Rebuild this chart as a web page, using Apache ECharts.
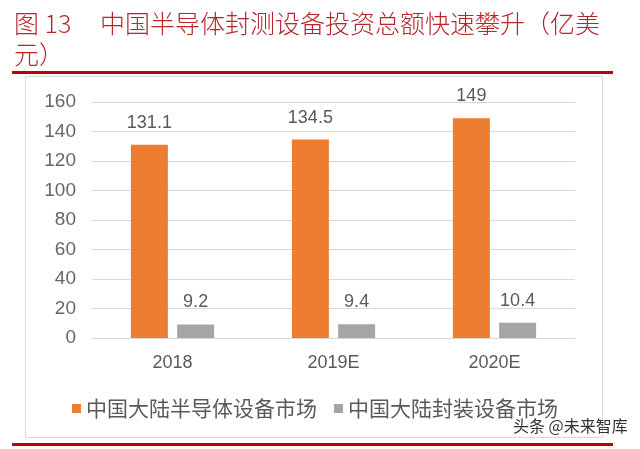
<!DOCTYPE html>
<html><head><meta charset="utf-8">
<script src="https://cdn.jsdelivr.net/npm/echarts@6/dist/echarts.min.js"></script>
<style>html,body{margin:0;padding:0;background:#fff}#c{width:640px;height:449px}</style>
</head><body><div id="c"></div>
<script>
var categories = ['2018', '2019E', '2020E'];
var semiEquip = [131.1, 134.5, 149];
var packEquip = [9.2, 9.4, 10.4];
var seriesNames = ['中国大陆半导体设备市场', '中国大陆封装设备市场'];
var yTicks = {min: 0, max: 160, interval: 20};
var titleNum = '图 13';
var titleLine1 = '中国半导体封测设备投资总额快速攀升（亿美';
var titleLine2 = '元）';
var watermark = '头条 @未来智库';

var chart = echarts.init(document.getElementById('c'));
var cjk = '"Noto Sans CJK SC", "Noto Sans", sans-serif';
var latin = '"Liberation Sans", "Noto Sans CJK SC", sans-serif';
var red = '#B8262C';
chart.setOption({
  animation: false,
  backgroundColor: '#fff',
  grid: {left: 92, right: 65, top: 102, bottom: 111},
  legend: {
    data: seriesNames,
    left: 67, top: 393,
    icon: 'rect', itemWidth: 9, itemHeight: 9, itemGap: 17,
    textStyle: {fontFamily: cjk, fontSize: 21, color: '#595959'}
  },
  xAxis: {
    type: 'category', data: categories,
    axisLine: {lineStyle: {color: '#D9D9D9'}},
    axisTick: {show: false},
    axisLabel: {fontFamily: latin, fontSize: 18, color: '#595959', margin: 16}
  },
  yAxis: {
    type: 'value', min: yTicks.min, max: yTicks.max, interval: yTicks.interval,
    axisLine: {show: false}, axisTick: {show: false},
    splitLine: {lineStyle: {color: '#D9D9D9'}},
    axisLabel: {fontFamily: latin, fontSize: 19, color: '#666666', margin: 16}
  },
  series: [
    {name: seriesNames[0], type: 'bar', data: semiEquip, barWidth: 37, barGap: '25%',
     itemStyle: {color: '#ED7D31'},
     label: {show: true, position: 'top', distance: 13, fontFamily: latin, fontSize: 18, color: '#595959'}},
    {name: seriesNames[1], type: 'bar', data: packEquip, barWidth: 37,
     itemStyle: {color: '#A5A5A5'},
     label: {show: true, position: 'top', distance: 13, fontFamily: latin, fontSize: 18, color: '#595959'}}
  ],
  graphic: [
    {type: 'rect', shape: {x: 25.5, y: 76.5, width: 577, height: 361}, style: {fill: 'none', stroke: '#D9D9D9', lineWidth: 1}, z: -1},
    {type: 'rect', shape: {x: 12, y: 71, width: 601, height: 3}, style: {fill: '#C00000'}},
    {type: 'rect', shape: {x: 12, y: 443, width: 601, height: 3}, style: {fill: '#C00000'}},
    {type: 'text', left: 14, top: 11, style: {text: titleNum, font: '300 25px ' + cjk, fill: red}},
    {type: 'text', left: 100, top: 11, style: {text: titleLine1, font: '300 25px ' + cjk, fill: red}},
    {type: 'text', left: 14, top: 42, style: {text: titleLine2, font: '300 25px ' + cjk, fill: red}},
    {type: 'text', left: 513, top: 418, style: {text: watermark, font: '16px ' + cjk, fill: '#333'}}
  ]
});
</script></body></html>
